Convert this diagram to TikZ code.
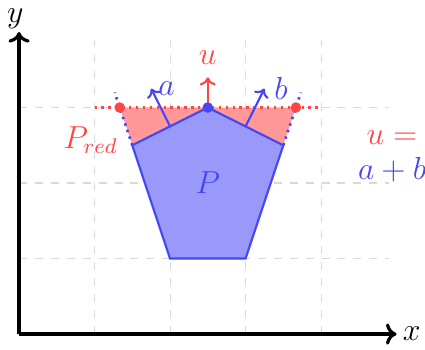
\documentclass[tikz,border=0pt]{standalone}
\usetikzlibrary{arrows.meta}
\definecolor{myred}{RGB}{255,70,70}
\definecolor{myblue}{RGB}{70,70,245}
\begin{document}
\begin{tikzpicture}[
  gridline/.style={gray!30, dashed, thin},
  axis/.style={very thick, -{To[length=4pt,width=8pt]}},
  vec/.style={thick, -{To[length=3pt,width=6pt]}},
  dotline/.style={line width=1pt, dash pattern=on 0.9pt off 1.7pt},
  redtxt/.style={text=myred},
  bluetxt/.style={text=myblue}
]
\useasboundingbox (-0.252,-0.199) rectangle (5.377,4.424);
% grid
\draw[gridline] (0,0) grid[step=1] (4.9,3.9);
% coordinates
\coordinate (B1) at (2,1);
\coordinate (B2) at (3,1);
\coordinate (R) at (3.5,2.5);
\coordinate (T) at (2.5,3);
\coordinate (L) at (1.5,2.5);
\coordinate (RL) at (1.3333,3);
\coordinate (RR) at (3.6667,3);
% red region
\fill[myred!55] (L) -- (RL) -- (RR) -- (R) -- (T) -- cycle;
% pentagon
\filldraw[fill=myblue!55, draw=myblue, thick] (B1) -- (B2) -- (R) -- (T) -- (L) -- cycle;
% dotted lines
\coordinate (HL) at (1,3);
\coordinate (HR) at (4,3);
\draw[myred, dotline] (HL) -- (HR);
\coordinate (EL) at (1.267,3.2);
\coordinate (ER) at (3.733,3.2);
\draw[myblue, dotline] (L) -- (EL);
\draw[myblue, dotline] (R) -- (ER);
% vectors
\coordinate (MA) at (2,2.75);
\coordinate (MB) at (3,2.75);
\coordinate (A) at (1.75,3.25);
\coordinate (Bv) at (3.25,3.25);
\coordinate (U) at (2.5,3.4);
\draw[vec, myblue] (MA) -- (A) node[right=-1pt, bluetxt, font=\large] (la) {$a$};
\draw[vec, myblue] (MB) -- (Bv) node[right=0pt, bluetxt, font=\large] (lb) {$b$};
\draw[vec, myred] (T) -- (U) node[above=1pt, redtxt, font=\large] (lu) {$u$};
% points
\fill[myred] (RL) circle (2pt);
\fill[myred] (RR) circle (2pt);
\fill[myblue] (T) circle (2pt);
% labels
\node[bluetxt, font=\large] (lp) at (2.5,2.0) {$P$};
\node[redtxt, font=\large] (lpr) at (0.95,2.57) {$P_{red}$};
\node[font=\large, align=center, inner sep=0pt] (lsum) at (4.94,2.35) {\textcolor{myred}{$u=$}\\[-1pt]\textcolor{myblue}{$a+b$}};
% axes
\coordinate (O) at (0,0);
\coordinate (X) at (5,0);
\coordinate (Y) at (0,4);
\draw[axis] (O) -- (X);
\draw[axis] (O) -- (Y);
\node[font=\large] (lx) at (5.2,0) {$x$};
\node[font=\large] (ly) at (-0.05,4.17) {$y$};
\end{tikzpicture}
\end{document}
